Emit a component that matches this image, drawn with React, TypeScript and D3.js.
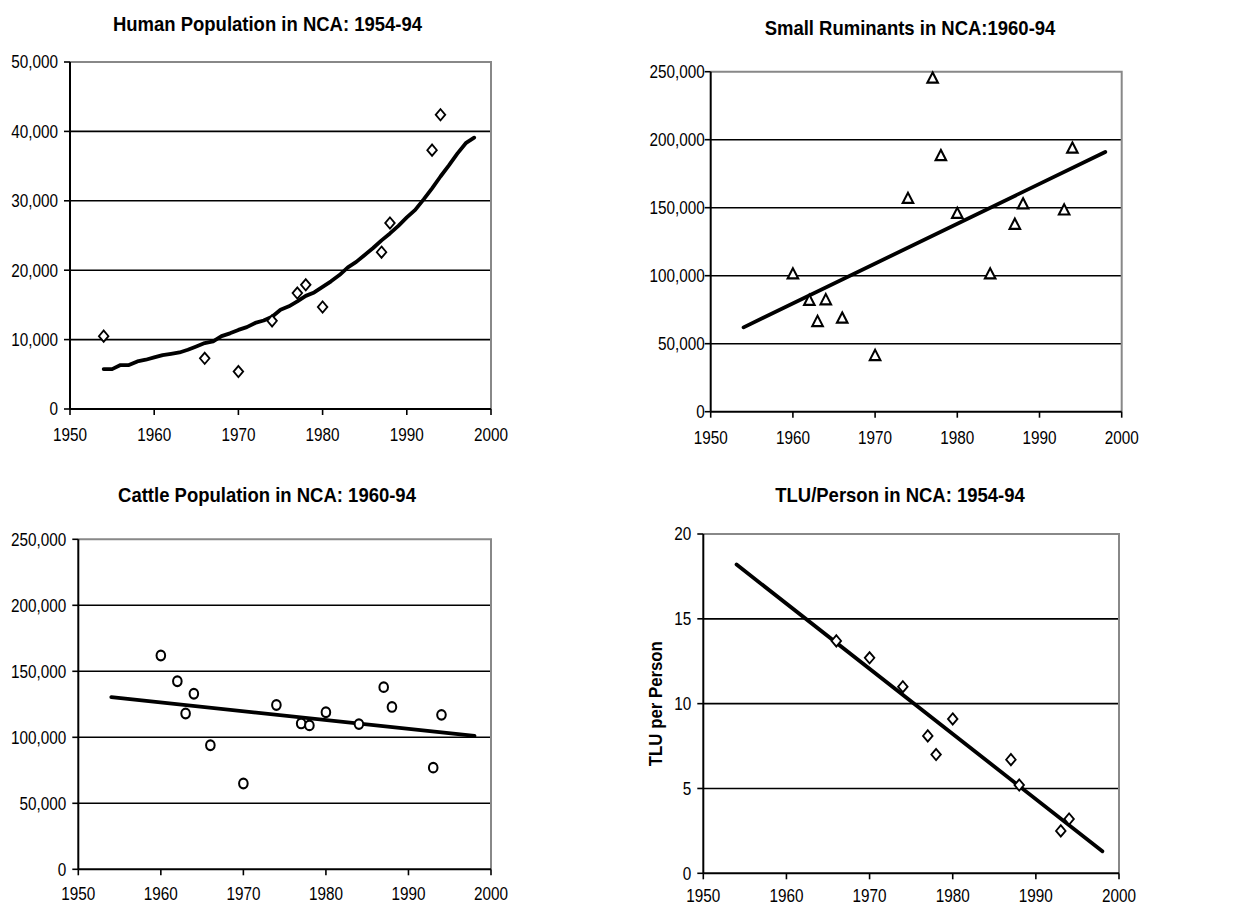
import React, { useEffect, useRef } from "react";
import * as d3 from "d3";

// human population (diamonds) + fitted curve
const humanYears = [1954, 1966, 1970, 1974, 1977, 1978, 1980, 1987, 1988, 1993, 1994];
const humanPop = [10500, 7300, 5400, 12700, 16700, 17900, 14700, 22600, 26800, 37300, 42400];
const humanTrendYears = [
  1954, 1955, 1956, 1957, 1958, 1959, 1960, 1961, 1962, 1963, 1964, 1965, 1966, 1967, 1968,
  1969, 1970, 1971, 1972, 1973, 1974, 1975, 1976, 1977, 1978, 1979, 1980, 1981, 1982, 1983,
  1984, 1985, 1986, 1987, 1988, 1989, 1990, 1991, 1992, 1993, 1994, 1995, 1996, 1997, 1998,
];
const humanTrend = [
  5750, 5750, 6330, 6330, 6860, 7100, 7430, 7770, 7960, 8150, 8530, 9000, 9500, 9730, 10500,
  10900, 11400, 11800, 12400, 12750, 13300, 14300, 14800, 15500, 16300, 16800, 17600, 18400,
  19300, 20400, 21200, 22200, 23200, 24300, 25300, 26400, 27600, 28700, 30200, 31800, 33500,
  35100, 36800, 38300, 39100,
];

// small ruminants (triangles)
const srYears = [1960, 1962, 1963, 1964, 1966, 1970, 1974, 1977, 1978, 1980, 1984, 1987, 1988, 1993, 1994];
const srValues = [100500, 81000, 65500, 81500, 68000, 40500, 156000, 244500, 187500, 145000, 100500, 137000, 152000, 147500, 193000];
const srTrendYears = [1954, 1998];
const srTrend = [62000, 191000];

// cattle (circles)
const cattleYears = [1960, 1962, 1963, 1964, 1966, 1970, 1974, 1977, 1978, 1980, 1984, 1987, 1988, 1993, 1994];
const cattleValues = [162000, 142500, 118000, 133000, 94000, 65000, 124500, 110500, 109000, 119000, 110000, 138000, 123000, 77000, 117000];
const cattleTrendYears = [1954, 1998];
const cattleTrend = [130500, 101000];

// TLU per person (diamonds)
const tluYears = [1966, 1970, 1974, 1977, 1978, 1980, 1987, 1988, 1993, 1994];
const tluValues = [13.7, 12.7, 11.0, 8.1, 7.0, 9.1, 6.7, 5.2, 2.5, 3.2];
const tluTrendYears = [1954, 1998];
const tluTrend = [18.2, 1.3];

const xTicks = [1950, 1960, 1970, 1980, 1990, 2000];

const panels = [
  {
    title: "Human Population in NCA: 1954-94",
    box: { left: 70, top: 62, right: 491, bottom: 409 },
    titlePos: [267.5, 31],
    yMax: 50000, yStep: 10000, labelGap: 12, xLabelOffset: 26,
    years: humanYears, values: humanPop, trendYears: humanTrendYears, trend: humanTrend,
    marker: "diamond",
  },
  {
    title: "Small Ruminants in NCA:1960-94",
    box: { left: 710.7, top: 71.7, right: 1121.7, bottom: 411.7 },
    titlePos: [910, 35],
    yMax: 250000, yStep: 50000, labelGap: 6, xLabelOffset: 26,
    years: srYears, values: srValues, trendYears: srTrendYears, trend: srTrend,
    marker: "triangle",
  },
  {
    title: "Cattle Population in NCA: 1960-94",
    box: { left: 78.3, top: 539.3, right: 491, bottom: 869.3 },
    titlePos: [267, 501.5],
    yMax: 250000, yStep: 50000, labelGap: 12, xLabelOffset: 24,
    years: cattleYears, values: cattleValues, trendYears: cattleTrendYears, trend: cattleTrend,
    marker: "circle",
  },
  {
    title: "TLU/Person in NCA: 1954-94",
    box: { left: 703.3, top: 534, right: 1119, bottom: 873.3 },
    titlePos: [900, 501.5],
    yMax: 20, yStep: 5, labelGap: 12, xLabelOffset: 22,
    years: tluYears, values: tluValues, trendYears: tluTrendYears, trend: tluTrend,
    marker: "diamond",
    yLabel: "TLU per Person",
  },
];

const FONT = "'Liberation Sans', Arial, sans-serif";
const STRETCH = 1.16;

const App = () => {
  const ref = useRef<SVGSVGElement>(null);

  useEffect(() => {
    const svg = d3.select(ref.current);
    svg.selectAll("*").remove();

    const fmt = d3.format(",");

    panels.forEach((p) => {
      const g = svg.append("g");
      const { left, top, right, bottom } = p.box;

      const x = d3.scaleLinear().domain([1950, 2000]).range([left, right]);
      const y = d3.scaleLinear().domain([0, p.yMax]).range([bottom, top]);
      const yTicks = d3.range(0, p.yMax + p.yStep / 2, p.yStep);

      // title
      g.append("text")
        .attr("transform", `translate(${p.titlePos[0]},${p.titlePos[1]}) scale(1,1.12)`)
        .attr("text-anchor", "middle")
        .attr("font-family", FONT)
        .attr("font-weight", "bold")
        .attr("font-size", 18.5)
        .text(p.title);

      // gridlines
      g.selectAll(".grid")
        .data(yTicks.filter((t) => t > 0 && t < p.yMax))
        .join("line")
        .attr("x1", left).attr("x2", right)
        .attr("y1", (d) => y(d)).attr("y2", (d) => y(d))
        .attr("stroke", "#000").attr("stroke-width", 1.6);

      // frame: top + right grey
      g.append("path")
        .attr("d", `M${left},${top}H${right}V${bottom}`)
        .attr("fill", "none").attr("stroke", "#888").attr("stroke-width", 2);

      // axes
      g.append("line")
        .attr("x1", left).attr("x2", left).attr("y1", top).attr("y2", bottom)
        .attr("stroke", "#000").attr("stroke-width", 2);
      g.append("line")
        .attr("x1", left).attr("x2", right).attr("y1", bottom).attr("y2", bottom)
        .attr("stroke", "#000").attr("stroke-width", 2);

      // y ticks
      g.selectAll(".yt")
        .data(yTicks)
        .join("line")
        .attr("x1", left - 6).attr("x2", left)
        .attr("y1", (d) => y(d)).attr("y2", (d) => y(d))
        .attr("stroke", "#000").attr("stroke-width", 1.6);
      g.selectAll(".yl")
        .data(yTicks)
        .join("text")
        .attr("transform", (d) => `translate(${left - p.labelGap},${y(d)}) scale(1,${STRETCH})`)
        .attr("text-anchor", "end")
        .attr("dy", "0.36em")
        .attr("font-family", FONT)
        .attr("font-size", 15.3)
        .text((d) => fmt(d));

      // x ticks
      g.selectAll(".xt")
        .data(xTicks)
        .join("line")
        .attr("x1", (d) => x(d)).attr("x2", (d) => x(d))
        .attr("y1", bottom).attr("y2", bottom + 6)
        .attr("stroke", "#000").attr("stroke-width", 1.6);
      g.selectAll(".xl")
        .data(xTicks)
        .join("text")
        .attr("transform", (d) => `translate(${x(d)},${bottom + p.xLabelOffset}) scale(1,${STRETCH})`)
        .attr("text-anchor", "middle")
        .attr("dy", "0.36em")
        .attr("font-family", FONT)
        .attr("font-size", 15.3)
        .text((d) => d);

      if (p.yLabel) {
        g.append("text")
          .attr("transform", `translate(${left - 41},${(top + bottom) / 2}) rotate(-90) scale(1.05,1.1)`)
          .attr("text-anchor", "middle")
          .attr("font-family", FONT)
          .attr("font-weight", "bold")
          .attr("font-size", 16)
          .text(p.yLabel);
      }

      // trend line
      const line = d3
        .line<number>()
        .x((_, i) => x(p.trendYears[i]))
        .y((d) => y(d));
      g.append("path")
        .datum(p.trend)
        .attr("d", line)
        .attr("fill", "none")
        .attr("stroke", "#000")
        .attr("stroke-width", 3.8)
        .attr("stroke-linecap", "round")
        .attr("stroke-linejoin", "round");

      // markers
      const symType =
        p.marker === "diamond" ? d3.symbolDiamond2 : p.marker === "triangle" ? d3.symbolTriangle : d3.symbolCircle;
      const size = p.marker === "diamond" ? 80 : p.marker === "triangle" ? 48 : 58;
      const sx = p.marker === "diamond" ? 0.85 : 1;
      const sy = p.marker === "diamond" ? 1 : 1.12;
      const sym = d3.symbol().type(symType).size(size);
      g.selectAll(".pt")
        .data(p.values)
        .join("path")
        .attr("d", sym)
        .attr("transform", (d, i) => `translate(${x(p.years[i])},${y(d)}) scale(${sx},${sy})`)
        .attr("fill", "#fff")
        .attr("stroke", "#000")
        .attr("stroke-width", 2);
    });
  }, []);

  return (
    <svg
      ref={ref}
      width={1240}
      height={908}
      style={{ position: "absolute", left: 0, top: 0, background: "#fff" }}
    />
  );
};

export default App;
